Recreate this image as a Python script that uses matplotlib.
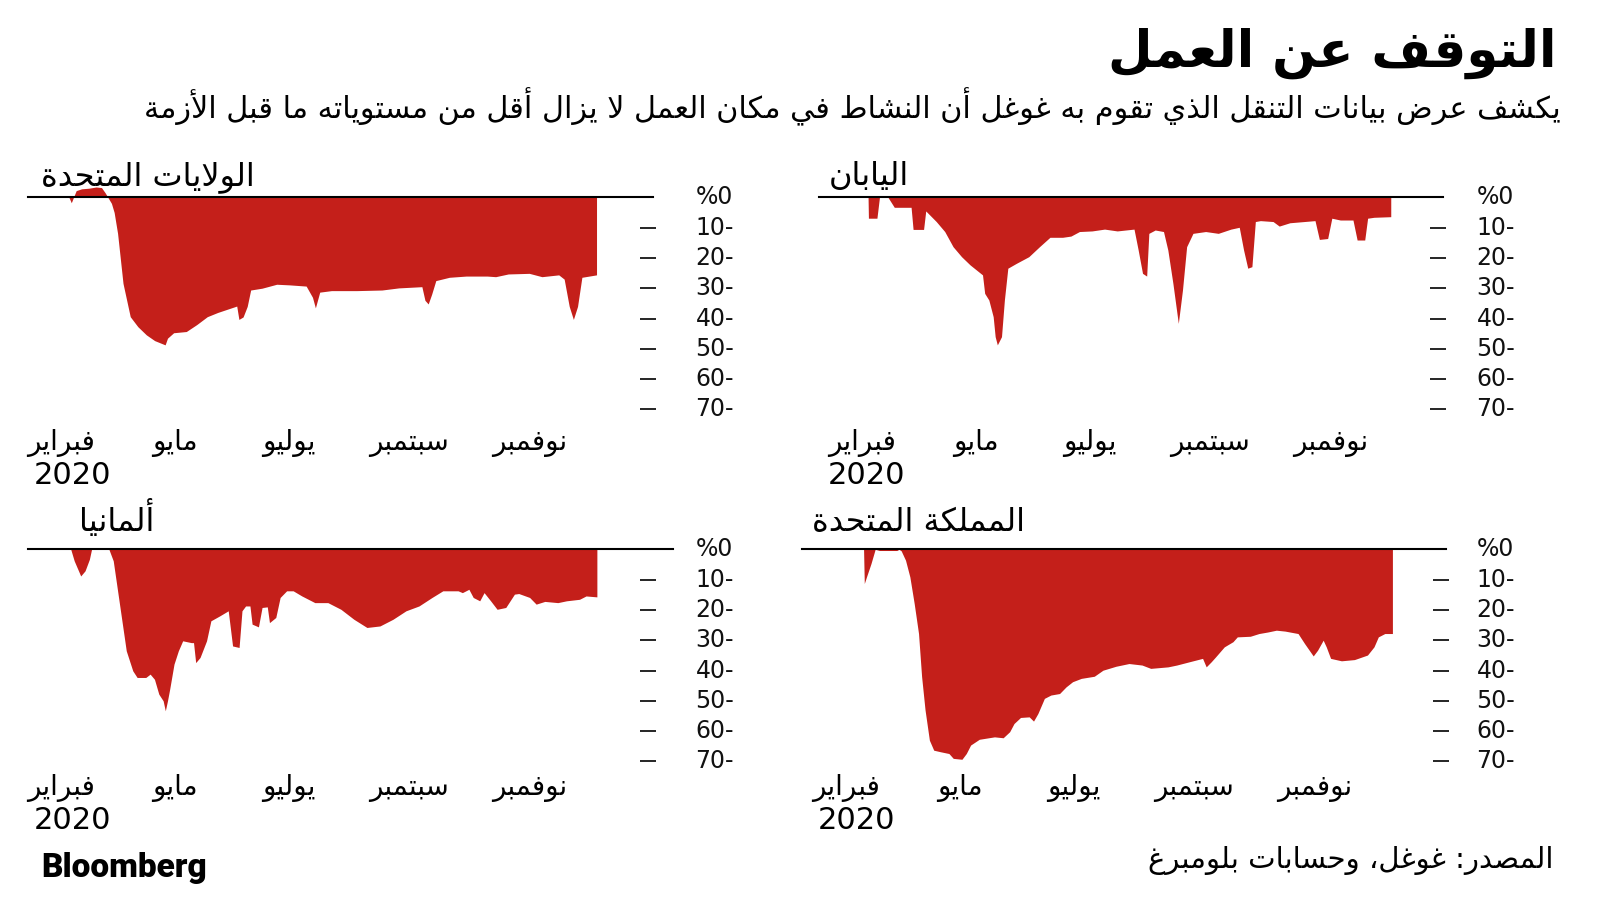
import matplotlib
matplotlib.use('Agg')
import matplotlib.pyplot as plt
from matplotlib.transforms import blended_transform_factory

plt.rcParams['font.family'] = ['DejaVu Sans']

# ---- minimal Arabic shaping (matplotlib has no bidi / joining) ----
ARABIC_FORMS = {
    '\u0621': (0xFE80, 1), '\u0622': (0xFE81, 2), '\u0623': (0xFE83, 2),
    '\u0624': (0xFE85, 2), '\u0625': (0xFE87, 2), '\u0626': (0xFE89, 4),
    '\u0627': (0xFE8D, 2), '\u0628': (0xFE8F, 4), '\u0629': (0xFE93, 2),
    '\u062A': (0xFE95, 4), '\u062B': (0xFE99, 4), '\u062C': (0xFE9D, 4),
    '\u062D': (0xFEA1, 4), '\u062E': (0xFEA5, 4), '\u062F': (0xFEA9, 2),
    '\u0630': (0xFEAB, 2), '\u0631': (0xFEAD, 2), '\u0632': (0xFEAF, 2),
    '\u0633': (0xFEB1, 4), '\u0634': (0xFEB5, 4), '\u0635': (0xFEB9, 4),
    '\u0636': (0xFEBD, 4), '\u0637': (0xFEC1, 4), '\u0638': (0xFEC5, 4),
    '\u0639': (0xFEC9, 4), '\u063A': (0xFECD, 4), '\u0641': (0xFED1, 4),
    '\u0642': (0xFED5, 4), '\u0643': (0xFED9, 4), '\u0644': (0xFEDD, 4),
    '\u0645': (0xFEE1, 4), '\u0646': (0xFEE5, 4), '\u0647': (0xFEE9, 4),
    '\u0648': (0xFEED, 2), '\u0649': (0xFEEF, 2), '\u064A': (0xFEF1, 4),
}
LAM_ALEF = {'\u0622': 0xFEF5, '\u0623': 0xFEF7, '\u0625': 0xFEF9, '\u0627': 0xFEFB}


def shape(text):
    chars = []
    i = 0
    while i < len(text):
        c = text[i]
        if c == '\u0644' and i + 1 < len(text) and text[i + 1] in LAM_ALEF:
            chars.append((LAM_ALEF[text[i + 1]], 2))
            i += 2
            continue
        chars.append(ARABIC_FORMS.get(c, (c, 0)))
        i += 1
    out = []
    for k, (base, n) in enumerate(chars):
        if n == 0:
            out.append(base)
            continue
        prev_joins = k > 0 and chars[k - 1][1] == 4 and n >= 2
        next_joins = n == 4 and k + 1 < len(chars) and chars[k + 1][1] >= 2
        if n == 1:
            idx = 0
        elif n == 2:
            idx = 1 if prev_joins else 0
        else:
            idx = {(False, False): 0, (True, False): 1,
                   (False, True): 2, (True, True): 3}[(prev_joins, next_joins)]
        out.append(chr(base + idx))
    return ''.join(reversed(out))


# ---- data: (days since 15 Feb 2020, % change in workplace activity) ----
title = 'التوقف عن العمل'
subtitle = 'يكشف عرض بيانات التنقل الذي تقوم به غوغل أن النشاط في مكان العمل لا يزال أقل من مستوياته ما قبل الأزمة'
source = 'المصدر: غوغل، وحسابات بلومبرغ'
months = ['فبراير', 'مايو', 'يوليو', 'سبتمبر', 'نوفمبر']
year_label = '2020'
y_ticks = [0, -10, -20, -30, -40, -50, -60, -70]
y_tick_labels = ['%0', '10-', '20-', '30-', '40-', '50-', '60-', '70-']

us_series = [(6, 0), (7.3, -1.8), (8.5, 0), (10, 2.2), (13, 2.8), (17, 3.0), (21, 3.4),
             (24, 3.2), (26, 1.5), (27.5, 0), (29.5, -2), (31, -5), (32.9, -11.9),
             (35.9, -28.4), (39.9, -39.4), (44.1, -42.7), (48.8, -45.4), (53.4, -47.3),
             (59.2, -48.7), (60.5, -46.5), (63.9, -44.7), (70.9, -44.3), (76.7, -42),
             (82.5, -39.4), (88.3, -38), (95.3, -36.6), (98.8, -35.9), (100, -40.3),
             (102.3, -39.5), (104.6, -36), (106.5, -30.6), (112.8, -30), (120.9, -28.7),
             (127.9, -28.9), (137.2, -29.3), (140.7, -33), (142.3, -36.5), (144.7, -31.3),
             (151.2, -30.8), (165.2, -30.8), (179.1, -30.6), (188.4, -29.9), (201.2, -29.5),
             (202.9, -34), (204.7, -35.2), (206.6, -32), (208.9, -27.5), (216.4, -26.4),
             (225.7, -26), (237.3, -26), (242, -26.2), (249, -25.3), (260.6, -25.1),
             (267.6, -26.2), (272.2, -25.9), (276.9, -25.6), (279.9, -27), (282.7, -36),
             (285, -40.3), (287.3, -36), (289.7, -26.4), (297.8, -25.6)]

japan_series = [(10.6, 0), (10.8, -6.9), (15.5, -6.9), (16.9, 0), (21.6, 0), (25.1, -3.3),
                (34.4, -3.3), (35.5, -10.6), (41.3, -10.6), (42.5, -4.5), (48.3, -8),
                (53, -11.3), (57.6, -16.3), (62.3, -19.6), (67, -22.3), (73.9, -25.6),
                (75.1, -31.7), (77.4, -33.9), (79.8, -39.4), (80.9, -46), (82.1, -48.7),
                (84.4, -46), (86, -33.9), (87.9, -23.4), (92.6, -21.8), (99.5, -19.6),
                (105.4, -16.3), (111.2, -13.2), (118.2, -13.2), (122.8, -12.8), (127.5, -11.3),
                (134.5, -11.1), (141.4, -10.5), (148.4, -11.1), (157.7, -10.5), (160, -17.4),
                (162.4, -25.1), (164.7, -26), (165.9, -11.9), (169.4, -10.8), (174, -11.3),
                (176.4, -17.4), (179.2, -28.4), (182.2, -41.6), (184.5, -30.6), (186.8, -16.3),
                (190.3, -11.9), (197.3, -11.3), (204.3, -11.9), (211.3, -10.5), (215.9, -9.9),
                (218.3, -17.4), (220.6, -23.4), (222.9, -22.9), (224.8, -8), (227.6, -7.7),
                (234.6, -8), (238, -9.5), (243.9, -8.4), (257.8, -7.7), (260.2, -13.9),
                (264.8, -13.6), (267.1, -6.9), (271.8, -7.5), (278.8, -7.5), (281.1, -14.1),
                (285.3, -14.1), (286.9, -6.9), (290.4, -6.6), (299.7, -6.4)]

germany_series = [(7, 0), (8.9, -3.8), (12.5, -8.8), (14.9, -7.1), (17.3, -3.3), (18.5, 0),
                  (28.1, 0), (30.5, -3.8), (32.9, -13.7), (35.3, -23.6), (37.7, -33.5),
                  (41.3, -40.1), (43.7, -42.3), (48.5, -42.3), (50.9, -41.2), (53.3, -42.9),
                  (55.7, -47.8), (58.1, -50), (59.3, -53.3), (60.5, -50), (61.7, -46.2),
                  (64.1, -37.9), (66.5, -33.5), (68.9, -30.2), (73.7, -30.8), (74.9, -30.8),
                  (76.1, -37.4), (78.5, -35.7), (82.1, -30.2), (84.5, -23.6), (89.3, -22),
                  (94.1, -20.3), (96.5, -31.9), (100.1, -32.4), (101.7, -20.3), (103.7, -18.7),
                  (106.1, -18.7), (107.3, -24.7), (110.8, -25.6), (112.8, -19.2), (115.7, -19),
                  (116.9, -24.2), (120.4, -22.5), (122.8, -15.9), (126.4, -13.7), (130, -13.7),
                  (134.8, -15.4), (142, -17.6), (149.2, -17.6), (156.4, -19.8), (163.6, -23.1),
                  (170.8, -25.8), (178, -25.3), (185.2, -23.1), (192.4, -20.3), (199.6, -18.7),
                  (206.8, -15.9), (212.8, -13.7), (221.2, -13.7), (223.6, -14.3), (227.2, -13.2),
                  (229.6, -15.9), (233.2, -17), (235.6, -14.3), (239.2, -17), (242.8, -19.8),
                  (247.6, -19.2), (252.4, -14.8), (254.8, -14.6), (260.8, -15.9), (264.4, -18.1),
                  (269.2, -17.2), (276.4, -17.6), (281.2, -17), (288.4, -16.5), (292, -15.4),
                  (298, -15.7)]

uk_series = [(6.9, 0), (7.3, -11.3), (8.5, -9.1), (11, -4.7), (13.3, 0), (15.7, -0.4),
             (25.3, -0.4), (26.5, 0), (27.7, -0.5), (30.1, -3.6), (32.5, -9.1), (34.9, -17.9),
             (37.3, -27.8), (39, -42), (40.9, -53), (43.3, -63), (45.7, -66.3), (49.3, -66.8),
             (54.1, -67.4), (56.5, -69), (61.3, -69.3), (63.7, -67.4), (66.1, -64.6),
             (70.9, -62.7), (79.3, -61.9), (84.1, -62.2), (87.7, -60.2), (90.1, -57.5),
             (93.7, -55.5), (98.5, -55.3), (100.9, -56.7), (103.3, -54.2), (106.9, -49.2),
             (110.5, -48.1), (115.3, -47.6), (118.9, -45.4), (122.5, -43.7), (127.3, -42.6),
             (134.5, -41.9), (139.3, -39.9), (146.5, -38.6), (153.7, -37.7), (160.9, -38.2),
             (165.7, -39.3), (175.3, -38.8), (180.1, -38.2), (187.2, -37.1), (194.4, -36),
             (196.4, -38.8), (199.2, -37.1), (201.6, -35.5), (206.4, -32.2), (211.2, -30.5),
             (213.6, -28.9), (220.8, -28.7), (225.6, -27.8), (230.4, -27.3), (235.2, -26.7),
             (240, -27), (247.2, -27.8), (250.8, -31.1), (255.6, -35.2), (258, -33.3),
             (261.1, -30), (262.8, -32.2), (265.2, -36), (271.2, -36.8), (278.4, -36.4),
             (285.6, -34.9), (289.2, -32.2), (291.6, -28.9), (295.2, -27.8), (299.4, -27.8)]

RED = '#c41f1a'
W, H = 1600, 900
PX_DAY = 1.808      # pixels per day
PX_PCT = 3.03       # pixels per percentage point
XMIN, XMAX = -30, 326
YMIN, YMAX = -78, 10

month_x = [61, 175, 289, 409, 530]   # label centres relative to left panel

panels = [
    dict(name='الولايات المتحدة', data=us_series, day0=58.1, zero_y=197.3,
         line=(28.4, 652.6), title_xy=(41, 185), dx=0, label_x=695.5,
         month_y=450, year_x=73, year_y=484),
    dict(name='اليابان', data=japan_series, day0=848.9, zero_y=197.3,
         line=(819.3, 1443.4), title_xy=(829, 185), dx=801, label_x=1476.5,
         month_y=450, year_x=867, year_y=484),
    dict(name='ألمانيا', data=germany_series, day0=58.1, zero_y=549.3,
         line=(27.8, 672.6), title_xy=(78.5, 531.5), dx=0, label_x=695.5,
         month_y=795, year_x=73, year_y=829),
    dict(name='المملكة المتحدة', data=uk_series, day0=851.1, zero_y=549.3,
         line=(801.5, 1445.5), title_xy=(812, 531.5), dx=785, label_x=1476.5,
         month_y=795, year_x=856, year_y=829),
]

fig = plt.figure(figsize=(16, 9), dpi=100)
fig.patch.set_facecolor('white')

for p in panels:
    left = p['day0'] + XMIN * PX_DAY
    width = (XMAX - XMIN) * PX_DAY
    top = p['zero_y'] - YMAX * PX_PCT
    height = (YMAX - YMIN) * PX_PCT
    ax = fig.add_axes([left / W, 1 - (top + height) / H, width / W, height / H])
    ax.set_xlim(XMIN, XMAX)
    ax.set_ylim(YMIN, YMAX)

    days = [d for d, v in p['data']]
    vals = [v for d, v in p['data']]
    ax.fill_between(days, vals, 0, color=RED, lw=0)

    ax.axhline(0, xmin=(p['line'][0] - left) / width, xmax=(p['line'][1] - left) / width,
               color='black', lw=1.5, clip_on=False)

    for s in ax.spines.values():
        s.set_visible(False)
    ax.set_xticks([])
    ax.set_yticks(y_ticks[1:])
    ax.yaxis.tick_right()
    ax.tick_params(axis='y', direction='inout', length=12.2, width=1.2,
                   labelright=False, color='black')

    trans = blended_transform_factory(fig.transFigure, ax.transData)
    for v, lab in zip(y_ticks, y_tick_labels):
        ax.text(p['label_x'] / W, v, lab, transform=trans, ha='left', va='center',
                fontsize=17, color='#111111')

    fig.text(p['title_xy'][0] / W, 1 - p['title_xy'][1] / H, shape(p['name']),
             ha='left', va='baseline', fontsize=23, color='black')

    for mx, m in zip(month_x, months):
        fig.text((mx + p['dx']) / W, 1 - p['month_y'] / H, shape(m),
                 ha='center', va='baseline', fontsize=20, color='black')
    fig.text(p['year_x'] / W, 1 - p['year_y'] / H, year_label,
             ha='center', va='baseline', fontsize=22, color='black')

fig.text(1556 / W, 1 - 66.7 / H, shape(title), ha='right', va='baseline',
         fontsize=37, fontweight='bold', color='black')
fig.text(1561 / W, 1 - 118 / H, shape(subtitle), ha='right', va='baseline',
         fontsize=21.8, color='black')
fig.text(1554 / W, 1 - 868 / H, shape(source), ha='right', va='baseline',
         fontsize=21, color='black')
fig.text(41 / W, 1 - 877 / H, 'Bloomberg', ha='left', va='baseline',
         fontsize=24, fontweight='black', family=['Roboto', 'DejaVu Sans'], color='black')

fig.savefig('out.png', dpi=100)
